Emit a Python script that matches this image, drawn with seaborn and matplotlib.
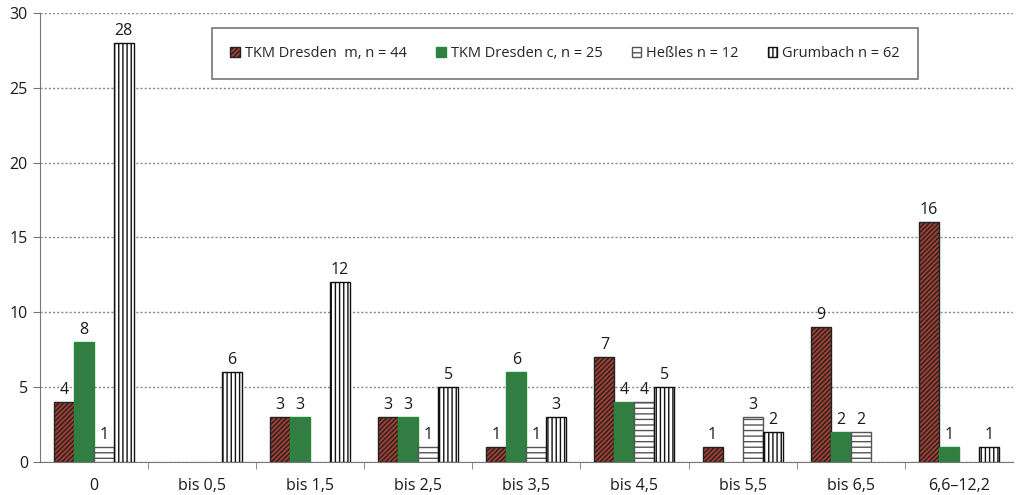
import pandas as pd
import numpy as np
import matplotlib
matplotlib.use('Agg')
import matplotlib.pyplot as plt
import seaborn as sns

categories = ['0', 'bis 0,5', 'bis 1,5', 'bis 2,5', 'bis 3,5', 'bis 4,5', 'bis 5,5', 'bis 6,5', '6,6–12,2']
series_names = ['TKM Dresden  m, n = 44', 'TKM Dresden c, n = 25', 'Heßles n = 12', 'Grumbach n = 62']
dresden_m = [4, 0, 3, 3, 1, 7, 1, 9, 16]
dresden_c = [8, 0, 3, 3, 6, 4, 0, 2, 1]
hessles = [1, 0, 0, 1, 1, 4, 3, 2, 0]
grumbach = [28, 6, 12, 5, 3, 5, 2, 0, 1]

rows = []
for name, vals in zip(series_names, [dresden_m, dresden_c, hessles, grumbach]):
    for c, v in zip(categories, vals):
        rows.append({'Klasse': c, 'Anzahl': v, 'Serie': name})
data = pd.DataFrame(rows)

sns.set_style('white')
plt.rcParams['font.family'] = ['Open Sans', 'DejaVu Sans']
plt.rcParams['hatch.linewidth'] = 1.0

fills = ['#b5301f', '#25893a', 'white', 'white']
edges = ['#222222', '#25893a', '#555555', '#111111']
hatches = ['///////', None, '---', '||||']

fig = plt.figure(figsize=(10.19, 4.95), dpi=100)
ax = fig.add_axes([0.039, 0.067, 0.955, 0.907])
sns.barplot(data, x='Klasse', y='Anzahl', hue='Serie', order=categories,
            hue_order=series_names, palette=fills, width=0.74, gap=0,
            errorbar=None, ax=ax, zorder=3)

for i, cont in enumerate(ax.containers):
    for bar in cont:
        bar.set_edgecolor(edges[i])
        bar.set_linewidth(1.0)
        if hatches[i]:
            bar.set_hatch(hatches[i])
        if bar.get_height() == 0:
            bar.set_visible(False)
    labels = [str(int(v)) if v > 0 else '' for v in cont.datavalues]
    ax.bar_label(cont, labels=labels, padding=3, fontsize=11.5, color='#1a1a1a')

ax.set_ylim(0, 30)
ax.set_xlim(-0.5, len(categories) - 0.5)
ax.set_yticks(range(0, 31, 5))
ax.yaxis.grid(True, linestyle=(0, (1.5, 1.5)), color='#888888', linewidth=1, zorder=0)
ax.set_xlabel('')
ax.set_ylabel('')
for s in ['top', 'right']:
    ax.spines[s].set_visible(False)
for s in ['left', 'bottom']:
    ax.spines[s].set_color('#777777')
ax.tick_params(axis='y', left=True, length=5, color='#777777', labelsize=11.5, labelcolor='#1a1a1a')
ax.tick_params(axis='x', bottom=False, labelsize=11.5, labelcolor='#1a1a1a', pad=8)
ax.set_xticks(np.arange(0.5, len(categories) - 0.5, 1), minor=True)
ax.tick_params(axis='x', which='minor', bottom=True, length=5, color='#777777')

leg = ax.legend(loc='upper center', bbox_to_anchor=(0.54, 0.967), ncol=4, fontsize=10.5,
                frameon=True, fancybox=False, handlelength=0.65, handleheight=0.65,
                columnspacing=2.0, handletextpad=0.35, borderpad=1.25, borderaxespad=0)
leg.get_frame().set_edgecolor('#555555')
leg.get_frame().set_linewidth(1.2)
for i, h in enumerate(leg.legend_handles):
    h.set_edgecolor(edges[i])
    if hatches[i]:
        h.set_hatch(hatches[i])

fig.savefig('out.png', dpi=100)
